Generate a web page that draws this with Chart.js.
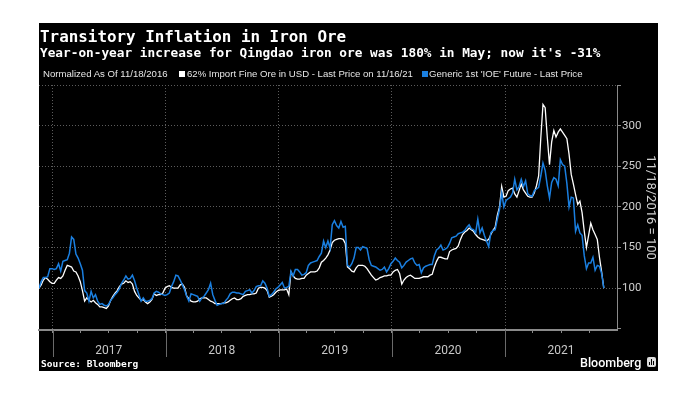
<!DOCTYPE html>
<html>
<head>
<meta charset="utf-8">
<script src="https://cdn.jsdelivr.net/npm/chart.js@4/dist/chart.umd.min.js"></script>
<style>
html,body{margin:0;padding:0;background:#fff;width:698px;height:394px;overflow:hidden}
#panel{position:absolute;left:39px;top:23px;width:619px;height:348px;background:#000}
canvas{position:absolute;left:0;top:0}
.t{position:absolute;white-space:nowrap;color:#fff}
#title{left:40px;top:25px;font:bold 15.9px "DejaVu Sans Mono",monospace;line-height:24px}
#sub{left:40px;top:44px;font:bold 12.75px "DejaVu Sans Mono",monospace;line-height:18px}
.lg{font:9.6px "Liberation Sans",sans-serif;line-height:12px;top:68px;color:#e6e6e6}
.box{position:absolute;top:71px;width:6px;height:6px}
#src{left:41px;top:358px;font:bold 9.5px "DejaVu Sans Mono",monospace;line-height:12px}
#bb{left:580px;top:355px;font:500 12.5px Roboto,sans-serif;line-height:16px}
#ic{position:absolute;left:647px;top:357px;width:9px;height:10px;background:#ddd;border-radius:2px}
#ic i{position:absolute;bottom:2px;width:1.4px;background:#000}
</style>
</head>
<body>
<div id="panel"></div>
<canvas id="c" width="698" height="394"></canvas>
<div class="t" id="title">Transitory Inflation in Iron Ore</div>
<div class="t" id="sub">Year-on-year increase for Qingdao iron ore was 180% in May; now it's -31%</div>
<div class="t lg" style="left:43px">Normalized As Of 11/18/2016</div>
<div class="box" style="left:179px;background:#fff"></div>
<div class="t lg" id="l1" style="left:187px"></div>
<div class="box" style="left:422px;background:#1a7fe0"></div>
<div class="t lg" id="l2" style="left:429px"></div>
<div class="t" id="src">Source: Bloomberg</div>
<div class="t" id="bb">Bloomberg</div>
<div id="ic"><i style="left:2px;height:3px"></i><i style="left:4px;height:6px"></i><i style="left:6px;height:4px"></i></div>
<script>
const startDate = '2016-11-18';
const endDate = '2021-11-16';
const seriesWhiteName = "62% Import Fine Ore in USD - Last Price on 11/16/21";
const seriesBlueName = "Generic 1st 'IOE' Future - Last Price";
const yearLabels = ['2017','2018','2019','2020','2021'];
const yTicks = [50,100,150,200,250,300,350];
const yLabelled = [100,150,200,250,300];
const yGridded = [100,150,200,250,300,350];
const axisTitle = '11/18/2016 = 100';

const whiteOre = [
100,104,110,113,111,108,106,106,110,113,112,115,122,128,127,126,121,120,115,108,97,84,88,85,83,85,82,80,77,77,76,75,78,85,90,94,97,102,105,106,109,107,108,105,96,91,88,
85,86,83,81,83,86,93,91,92,92,94,100,102,103,101,100,100,100,104,105,101,90,87,84,83,83,84,87,88,88,88,86,84,83,81,81,81,81,82,82,83,85,87,88,
86,86,87,90,91,92,92,93,93,94,100,101,101,100,97,89,90,92,95,97,98,98,98,99,92,120,115,112,111,111,112,112,116,118,120,120,120,121,125,132,134,137,141,147,
156,159,160,161,161,160,155,126,124,121,120,125,128,128,128,127,124,120,116,113,110,111,113,114,115,115,116,116,120,122,123,118,105,110,113,115,116,114,112,112,112,113,114,114,
114,116,117,126,133,138,138,137,136,136,145,147,148,149,152,160,166,169,171,174,172,170,166,163,161,160,159,158,160,166,171,175,190,200,225,212,213,220,222,223,216,212,220,228,
221,217,213,212,212,217,226,238,285,326,322,285,252,280,294,286,292,296,292,288,284,265,240,228,215,203,207,193,170,150,165,180,172,166,160,138,120,100
];
const blueFuture = [
100,108,113,113,114,124,124,123,124,130,121,133,134,135,143,163,160,142,137,130,122,97,94,84,96,88,92,84,80,81,79,78,80,85,88,92,95,99,106,110,115,111,112,116,109,100,92,
84,88,84,84,85,87,94,96,95,93,92,91,92,94,102,108,116,115,110,104,98,90,84,93,92,91,90,84,88,90,94,98,106,92,85,79,80,81,81,85,88,93,95,95,
94,94,93,92,96,97,98,94,97,102,103,103,109,106,100,90,92,95,99,101,104,107,100,101,102,121,115,123,123,120,116,117,119,128,131,132,133,134,139,143,158,150,158,149,
178,183,177,174,182,175,176,128,126,130,137,150,150,147,151,150,149,135,128,127,126,124,122,123,126,120,124,130,133,137,134,132,125,128,132,134,136,137,131,128,129,119,125,127,
128,129,129,140,147,149,153,147,148,150,155,162,163,164,167,168,169,171,175,178,173,172,168,185,168,174,165,158,151,168,171,172,185,197,217,200,208,210,212,217,234,221,225,234,
225,232,216,214,213,220,222,224,238,254,245,226,211,230,236,234,226,258,252,250,229,200,212,211,170,178,168,165,140,124,131,131,138,122,128,127,118,100
];

document.getElementById('l1').textContent = seriesWhiteName;
document.getElementById('l2').textContent = seriesBlueName;

const DAY = 86400000;
const t0 = Date.parse(startDate);
const totalDays = (Date.parse(endDate) - t0) / DAY;
const step = totalDays / (whiteOre.length - 1);
const toPts = arr => arr.map((v, i) => ({x: i * step, y: v}));
const dayOf = (y, m) => (Date.UTC(y, m, 1) - t0) / DAY;

const quarterTicks = [];
const yearTicks = [];
const midTicks = {};
yearLabels.forEach(s => {
  const y = +s;
  [0,3,6,9].forEach(m => quarterTicks.push(dayOf(y, m)));
  yearTicks.push(dayOf(y, 0));
  midTicks[dayOf(y, 6)] = s;
});

const separators = {
  id: 'separators',
  afterDraw(chart) {
    const sx = chart.scales.x, c = chart.ctx;
    c.save();
    c.strokeStyle = '#6a6a6a';
    c.lineWidth = 1;
    yearTicks.forEach(d => {
      const px = Math.round(sx.getPixelForValue(d)) + 0.5;
      c.beginPath(); c.moveTo(px, sx.top); c.lineTo(px, 357); c.stroke();
    });
    c.restore();
  }
};

const axisFont = {family: 'Roboto, sans-serif', size: 11};

new Chart(document.getElementById('c'), {
  type: 'line',
  plugins: [separators],
  data: {
    datasets: [
      {label: seriesBlueName, data: toPts(blueFuture), borderColor: '#1a7fe0', borderWidth: 1.5, pointRadius: 0, tension: 0, order: 1},
      {label: seriesWhiteName, data: toPts(whiteOre), borderColor: '#ffffff', borderWidth: 1.3, pointRadius: 0, tension: 0, order: 2}
    ]
  },
  options: {
    responsive: false,
    animation: false,
    layout: {padding: {left: 39, top: 85, right: 40, bottom: 0}},
    plugins: {legend: {display: false}, title: {display: false}, tooltip: {enabled: false}},
    scales: {
      x: {
        type: 'linear', min: 0, max: 578 / (113.1 / 365.25),
        afterBuildTicks(s) { s.ticks = quarterTicks.map(v => ({value: v})); },
        afterFit(s) { s.height = 64; },
        border: {color: '#8a8a8a', width: 2, dash: [1, 2]},
        grid: {
          color: ctx => (ctx.tick && yearTicks.includes(ctx.tick.value)) ? '#5c5c5c' : 'rgba(0,0,0,0)',
          tickColor: '#8a8a8a', tickLength: 3, lineWidth: 1
        },
        ticks: {
          autoSkip: false, maxRotation: 0, minRotation: 0, padding: 11,
          color: '#c8c8c8', font: {family: axisFont.family, size: 12},
          callback: v => midTicks[v] || ''
        }
      },
      y: {
        position: 'right', min: 48.5, max: 350,
        afterBuildTicks(s) { s.ticks = yTicks.map(v => ({value: v})); },
        afterFit(s) { s.width = 41; },
        border: {color: '#8a8a8a', width: 1, dash: [1, 2]},
        grid: {
          color: ctx => (ctx.tick && yGridded.includes(ctx.tick.value)) ? '#5c5c5c' : 'rgba(0,0,0,0)',
          tickColor: '#8a8a8a', tickLength: 4, lineWidth: 1
        },
        ticks: {
          padding: 1, color: '#d0d0d0', font: {family: axisFont.family, size: 11.5},
          callback: v => yLabelled.includes(v) ? String(v) : ''
        },
        title: {display: true, text: axisTitle, color: '#d0d0d0', font: {family: axisFont.family, size: 13}, padding: {top: 0, bottom: 2}}
      }
    }
  }
});
</script>
</body>
</html>
